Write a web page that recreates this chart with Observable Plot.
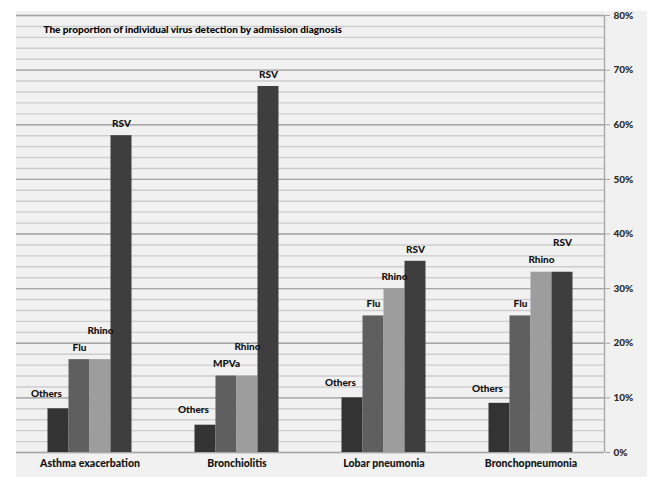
<!DOCTYPE html>
<html>
<head>
<meta charset="utf-8">
<script src="https://cdn.jsdelivr.net/npm/d3@7"></script>
<script src="https://cdn.jsdelivr.net/npm/@observablehq/plot@0.6"></script>
<style>
  html, body { margin: 0; padding: 0; background: #ffffff; }
  #chart { position: absolute; left: 16px; top: 0px; }
  #chart svg { background: linear-gradient(to bottom, #ffffff 11px, #f1f1f1 11px) !important; display: block; }
</style>
</head>
<body>
<div id="chart"></div>
<script>
const title = "The proportion of individual virus detection by admission diagnosis";
const groups = ["Asthma exacerbation", "Bronchiolitis", "Lobar pneumonia", "Bronchopneumonia"];
const barLabels = [
  ["Others", "Flu", "Rhino", "RSV"],
  ["Others", "MPVa", "Rhino", "RSV"],
  ["Others", "Flu", "Rhino", "RSV"],
  ["Others", "Flu", "Rhino", "RSV"]
];
const others = [8, 5, 10, 9];
const fluMpva = [17, 14, 25, 25];
const rhino = [17, 14, 30, 33];
const rsv = [58, 67, 35, 33];
const seriesColors = ["#333333", "#5f5f5f", "#9d9d9d", "#3e3e3e"];
const majorTicks = [0, 10, 20, 30, 40, 50, 60, 70, 80];
const minorTicks = d3.range(0, 81, 2);

const seriesArrays = [others, fluMpva, rhino, rsv];
const slots = 7; // slots per group: 1.5 gap + 4 bars + 1.5 gap
const rows = groups.flatMap((g, gi) => seriesArrays.map((arr, si) => ({
  group: g,
  gi, si,
  value: arr[gi],
  label: barLabels[gi][si],
  color: seriesColors[si],
  raised: si > 0 && arr[gi] === seriesArrays[si - 1][gi],
  x1: gi * slots + 1.5 + si,
  x2: gi * slots + 2.5 + si
})));

const font = "Lato, 'Liberation Sans Narrow', sans-serif";

const plot = Plot.plot({
  width: 631,
  height: 477,
  marginLeft: 0,
  marginRight: 43,
  marginTop: 15,
  marginBottom: 25,
  style: { fontFamily: font, fontWeight: "900", fontSize: "10px", color: "#1a1a1a" },
  x: { domain: [0, groups.length * slots], axis: null },
  y: { domain: [0, 80], axis: null },
  marks: [
    Plot.ruleY(minorTicks, { stroke: "#cdcdcd", strokeWidth: 1.4 }),
    Plot.ruleY(majorTicks, { stroke: "#a6a6a6", strokeWidth: 1.4 }),
    Plot.ruleX([groups.length * slots], { stroke: "#a6a6a6", strokeWidth: 1.4 }),
    Plot.axisY({ anchor: "right", label: null, ticks: majorTicks, tickFormat: d => d + "%", tickSize: 5, tickPadding: 4, stroke: "#a6a6a6", fontSize: 10, fill: "#2a2a2a" }),
    Plot.axisX({
      label: null,
      ticks: groups.map((g, i) => i * slots + slots / 2),
      tickFormat: v => groups[Math.round((v - slots / 2) / slots)],
      tickSize: 0, tickPadding: 7, fontSize: 10.5, fill: "#111"
    }),
    Plot.rectY(rows, { x1: "x1", x2: "x2", y: "value", fill: "color" }),
    Plot.text(rows.filter(d => d.si === 0), { x: d => (d.x1 + d.x2) / 2, y: "value", text: "label", dx: -12, dy: -15, fill: "#111", fontSize: 10 }),
    Plot.text(rows.filter(d => d.si > 0 && !d.raised), { x: d => (d.x1 + d.x2) / 2, y: "value", text: "label", dy: -12, fill: "#111", fontSize: 10 }),
    Plot.text(rows.filter(d => d.si > 0 && d.raised), { x: d => (d.x1 + d.x2) / 2, y: "value", text: "label", dy: -29, fill: "#111", fontSize: 10 }),
    Plot.text([title], { frameAnchor: "top-left", textAnchor: "start", lineAnchor: "middle", dx: 27, dy: 14, fontSize: 10, fill: "#000" })
  ]
});
document.getElementById("chart").appendChild(plot);
</script>
</body>
</html>
